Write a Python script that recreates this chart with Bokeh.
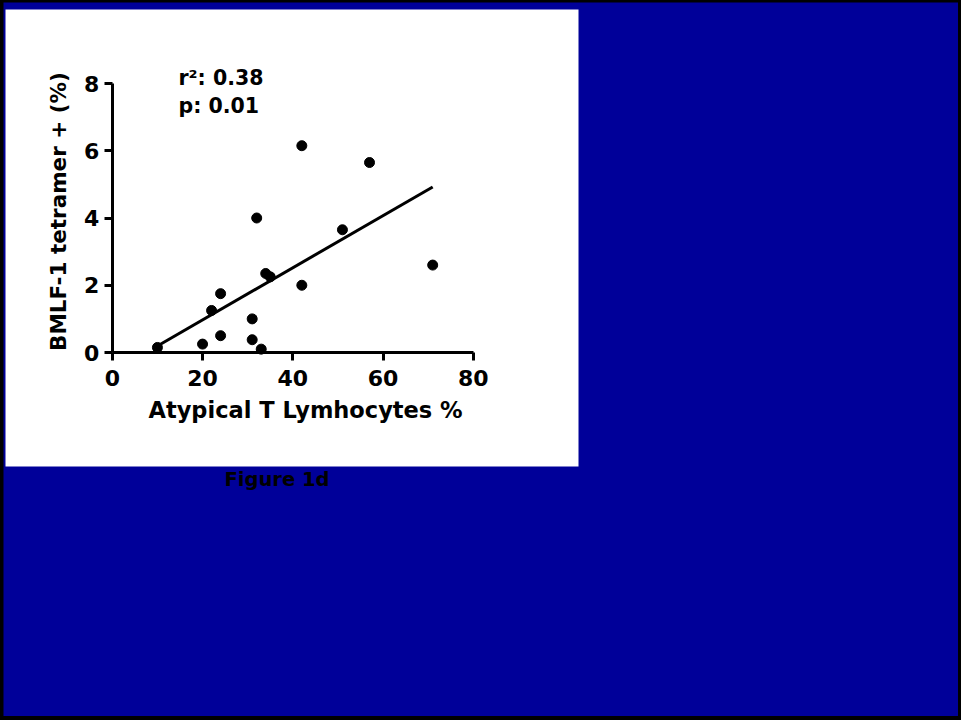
import numpy as np
from bokeh.plotting import figure
from bokeh.models import Range1d, LinearAxis, FixedTicker, Label, BoxAnnotation
from bokeh.embed import file_html
from bokeh.resources import INLINE

# ---------------- data ----------------
atypical_t_lymphocytes_pct = [10, 20, 22, 24, 24, 31, 31, 32, 33, 34, 35, 42, 42, 51, 57, 71]
bmlf1_tetramer_pct = [0.15, 0.25, 1.25, 1.75, 0.5, 1.0, 0.38, 4.0, 0.1, 2.35, 2.25, 2.0, 6.15, 3.65, 5.65, 2.6]
x_ticks = [0, 20, 40, 60, 80]
y_ticks = [0, 2, 4, 6, 8]
stats_lines = ["r\u00b2: 0.38", "p: 0.01"]
x_title = "Atypical T Lymhocytes %"
y_title = "BMLF-1 tetramer + (%)"
caption = "Figure 1d"

# ---------------- layout (page pixels) ----------------
FIG_LEFT, FIG_TOP = 3, 2
W, H = 955, 714
PANEL_L, PANEL_T, PANEL_R, PANEL_B = 5, 9, 578, 466
X0_PX, XMAX_PX = 111.8, 472.8      # page x of x-axis start / end
Y0_PX, YMAX_PX = 352.0, 83.0       # page y of y-axis start / end
SHIFT = 8                          # baseline correction for labels

FONT = "DejaVu Sans"
BLUE = "#000099"

sx = (XMAX_PX - X0_PX) / (x_ticks[-1] - x_ticks[0])
sy = (Y0_PX - YMAX_PX) / (y_ticks[-1] - y_ticks[0])


def px_x(px):
    return x_ticks[0] + (px - X0_PX) / sx


def px_y(py):
    return y_ticks[0] + (Y0_PX - py) / sy


p = figure(
    width=W, height=H,
    x_range=Range1d(px_x(FIG_LEFT), px_x(FIG_LEFT + W)),
    y_range=Range1d(px_y(FIG_TOP + H), px_y(FIG_TOP)),
    x_axis_type=None, y_axis_type=None,
    output_backend="svg", toolbar_location=None,
    min_border=0,
    background_fill_color=BLUE,
    border_fill_color=BLUE,
    outline_line_color=None,
)
p.margin = (FIG_TOP, 961 - FIG_LEFT - W, 720 - FIG_TOP - H, FIG_LEFT)

# white panel behind the chart
p.add_layout(BoxAnnotation(left=px_x(PANEL_L), right=px_x(PANEL_R),
                           top=px_y(PANEL_T), bottom=px_y(PANEL_B),
                           fill_color="white", fill_alpha=1.0, line_color=None,
                           level="underlay"))


def style_axis(ax):
    ax.axis_line_width = 3
    ax.axis_line_color = "black"
    ax.major_tick_line_width = 3
    ax.major_tick_line_color = "black"
    ax.major_tick_out = 8
    ax.major_tick_in = 0
    ax.minor_tick_out = 0
    ax.minor_tick_in = 0
    ax.major_label_text_font = FONT
    ax.major_label_text_font_size = "22px"
    ax.major_label_text_font_style = "bold"
    ax.major_label_text_color = "black"


xaxis = LinearAxis(fixed_location=y_ticks[0], bounds=(x_ticks[0], x_ticks[-1]),
                   ticker=FixedTicker(ticks=x_ticks))
style_axis(xaxis)
xaxis.major_label_standoff = 9
p.add_layout(xaxis, "below")

yaxis = LinearAxis(fixed_location=x_ticks[0], bounds=(y_ticks[0], y_ticks[-1]),
                   ticker=FixedTicker(ticks=y_ticks))
style_axis(yaxis)
yaxis.major_label_standoff = 5
p.add_layout(yaxis, "left")

# axis titles
p.add_layout(Label(x=px_x(148), y=px_y(417 - SHIFT), text=x_title,
                   text_font=FONT, text_font_size="22.5px", text_font_style="bold",
                   text_color="black", text_baseline="alphabetic", text_align="left"))
p.add_layout(Label(x=px_x(66 - SHIFT), y=px_y(211), text=y_title, angle=90, angle_units="deg",
                   text_font=FONT, text_font_size="21.5px", text_font_style="bold",
                   text_color="black", text_baseline="alphabetic", text_align="center"))

# regression line from the data
xs = np.array(atypical_t_lymphocytes_pct, dtype=float)
ys = np.array(bmlf1_tetramer_pct, dtype=float)
slope, intercept = np.polyfit(xs, ys, 1)
fit_x = [xs.min(), xs.max()]
fit_y = [slope * v + intercept for v in fit_x]
p.line(fit_x, fit_y, line_width=3, line_color="black")

p.scatter(atypical_t_lymphocytes_pct, bmlf1_tetramer_pct, size=10,
          fill_color="black", line_color="black")

# stats annotation
for text, base in zip(stats_lines, [85, 113]):
    p.add_layout(Label(x=px_x(178), y=px_y(base - SHIFT), text=text,
                       text_font=FONT, text_font_size="20.5px", text_font_style="bold",
                       text_color="black", text_baseline="alphabetic", text_align="left"))

# caption below the white panel
p.add_layout(Label(x=px_x(224), y=px_y(487 - SHIFT), text=caption,
                   text_font=FONT, text_font_size="19.5px", text_font_style="bold",
                   text_color="black", text_baseline="alphabetic", text_align="left"))

html = file_html(p, INLINE, title="Figure 1d")
html = html.replace(
    "<head>",
    "<head>\n<style>html, body {margin: 0; padding: 0; background: #000000; overflow: hidden;}</style>",
    1,
)
open("out.html", "w").write(html)
